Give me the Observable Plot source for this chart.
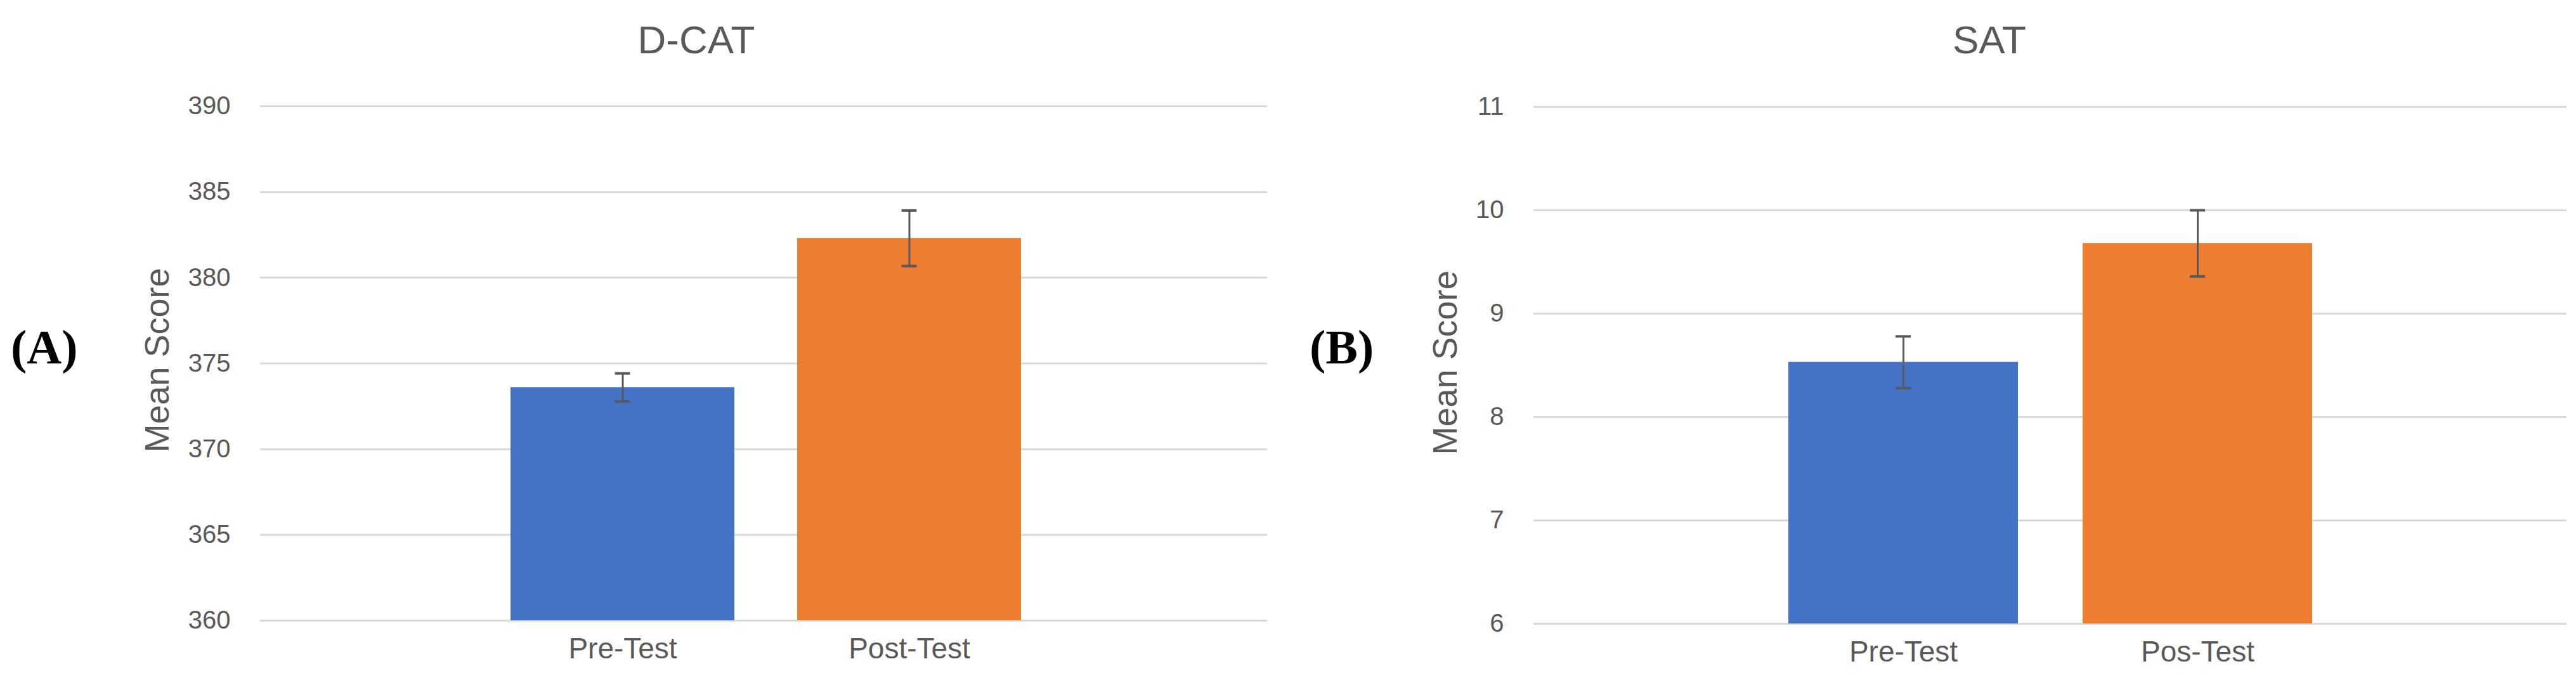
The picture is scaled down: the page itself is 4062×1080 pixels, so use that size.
<!DOCTYPE html>
<html>
<head>
<meta charset="utf-8">
<script src="https://cdn.jsdelivr.net/npm/d3@7"></script>
<script src="https://cdn.jsdelivr.net/npm/@observablehq/plot@0.6"></script>
<style>
  html, body { margin: 0; padding: 0; background: #fff; }
  #root { position: relative; width: 4062px; height: 1080px; background: #fff; overflow: hidden; }
  .title { position: absolute; font-family: "Liberation Sans", Arial, sans-serif; font-size: 62px; line-height: 62px; color: #595959; transform: translateX(-50%); white-space: nowrap; }
  .panel { position: absolute; font-family: "Liberation Serif", "Times New Roman", serif; font-weight: bold; font-size: 76px; line-height: 76px; color: #000; white-space: nowrap; }
  .ylabel { position: absolute; font-family: "Liberation Sans", Arial, sans-serif; font-size: 54px; line-height: 54px; color: #595959; white-space: nowrap; transform: translate(-50%, -50%) rotate(-90deg); }
  .chart { position: absolute; top: 120px; }
</style>
</head>
<body>
<div id="root"></div>
<script>
// ---- data ----
const titles = ["D-CAT", "SAT"];
const panelLabels = ["(A)", "(B)"];
const yLabel = "Mean Score";
const barColors = ["#4472C4", "#ED7D31"];

const categoriesA = ["Pre-Test", "Post-Test"];
const meansA = [373.6, 382.3];
const errorsA = [0.82, 1.62];
const ticksA = [360, 365, 370, 375, 380, 385, 390];

const categoriesB = ["Pre-Test", "Pos-Test"];
const meansB = [8.53, 9.68];
const errorsB = [0.25, 0.32];
const ticksB = [6, 7, 8, 9, 10, 11];

const font = '"Liberation Sans", Arial, sans-serif';

function makeChart(cats, means, errs, ticks, layout) {
  const data = cats.map((c, i) => ({cat: c, mean: means[i], err: errs[i], color: barColors[i]}));
  const lo = ticks[0], hi = ticks[ticks.length - 1];
  const frameW = layout.width - layout.marginLeft - layout.marginRight;
  const rangeW = frameW - layout.insetLeft - layout.insetRight;
  const pin = 0.22;
  const bw = rangeW / (2 - pin) * (1 - pin);
  const capInset = (bw - 24) / 2;
  return Plot.plot({
    width: layout.width,
    height: 960,
    marginLeft: layout.marginLeft,
    marginRight: layout.marginRight,
    marginTop: layout.marginTop,
    marginBottom: layout.marginBottom,
    style: {color: "#595959", background: "transparent", overflow: "visible"},
    x: {type: "band", domain: cats, paddingInner: pin, paddingOuter: 0, insetLeft: layout.insetLeft, insetRight: layout.insetRight, axis: null},
    y: {domain: [lo, hi], axis: null},
    color: {type: "identity"},
    marks: [
      Plot.ruleY(ticks, {stroke: "#d9d9d9", strokeWidth: 3}),
      Plot.barY(data, {x: "cat", y1: lo, y2: "mean", fill: "color"}),
      Plot.ruleX(data, {x: "cat", y1: d => d.mean - d.err, y2: d => d.mean + d.err, stroke: "#595959", strokeWidth: 3}),
      Plot.tickY(data, {x: "cat", y: d => d.mean - d.err, stroke: "#595959", strokeWidth: 4, insetLeft: capInset, insetRight: capInset}),
      Plot.tickY(data, {x: "cat", y: d => d.mean + d.err, stroke: "#595959", strokeWidth: 4, insetLeft: capInset, insetRight: capInset}),
      Plot.axisY(ticks, {tickSize: 0, tickPadding: 47, fontSize: 40, fontFamily: font, tickFormat: d3.format("d"), label: null}),
      Plot.axisX({tickSize: 0, tickPadding: 27, fontSize: 46, fontFamily: font, label: null})
    ]
  });
}

const root = document.getElementById("root");

const layoutA = {width: 2031, marginLeft: 410, marginRight: 33, marginTop: 47, marginBottom: 102, insetLeft: 394, insetRight: 388};
const layoutB = {width: 2031, marginLeft: 387, marginRight: 15, marginTop: 48, marginBottom: 97, insetLeft: 402, insetRight: 401};

const chartA = makeChart(categoriesA, meansA, errorsA, ticksA, layoutA);
chartA.classList.add("chart");
chartA.style.left = "0px";
root.appendChild(chartA);

const chartB = makeChart(categoriesB, meansB, errorsB, ticksB, layoutB);
chartB.classList.add("chart");
chartB.style.left = "2031px";
root.appendChild(chartB);

const titleCenters = [1098, 3137];
titles.forEach((t, i) => {
  const d = document.createElement("div");
  d.className = "title";
  d.textContent = t;
  d.style.left = titleCenters[i] + "px";
  d.style.top = "32px";
  root.appendChild(d);
});

const ylabelCenters = [[247, 568], [2278, 572]];
ylabelCenters.forEach(([cx, cy]) => {
  const d = document.createElement("div");
  d.className = "ylabel";
  d.textContent = yLabel;
  d.style.left = cx + "px";
  d.style.top = cy + "px";
  root.appendChild(d);
});

const panelLefts = [17, 2065];
panelLabels.forEach((t, i) => {
  const d = document.createElement("div");
  d.className = "panel";
  d.textContent = t;
  d.style.left = panelLefts[i] + "px";
  d.style.top = "509px";
  root.appendChild(d);
});
</script>
</body>
</html>
